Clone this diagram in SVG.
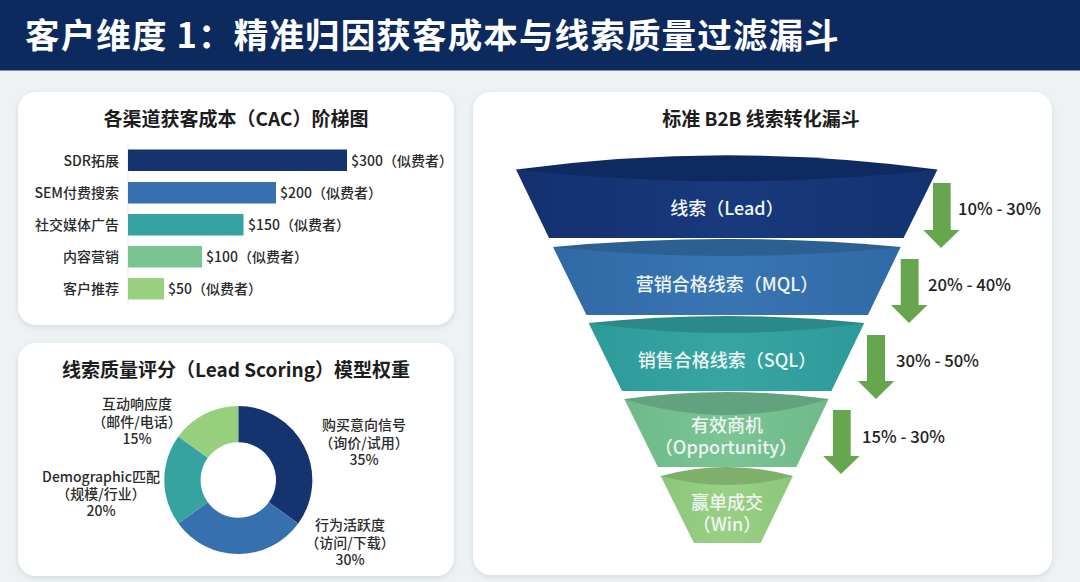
<svg xmlns="http://www.w3.org/2000/svg" width="1080" height="582" viewBox="0 0 1080 582">
<style>
text{font-family:"Noto Sans CJK SC","Noto Sans",sans-serif;fill:#222}
.card{fill:#fff;filter:url(#sh)}
.ct{font-size:19px;font-weight:700;text-anchor:middle;fill:#1d1d1d}
.bl{font-size:14px;text-anchor:end;fill:#2b2b2b;font-weight:500}
.bv{font-size:14px;fill:#2b2b2b;font-weight:500}
.dl{font-size:14px;text-anchor:middle;fill:#2b2b2b;font-weight:500}
.fl{font-size:18px;text-anchor:middle;fill:#eef5f3;font-weight:500}
.rate{font-size:16.700px;fill:#222;font-weight:500}
.arrow{fill:#66a64e}
</style>
<defs>
<filter id="sh" x="-5%" y="-5%" width="110%" height="110%"><feDropShadow dx="0" dy="2" stdDeviation="3" flood-color="#8fa0a8" flood-opacity=".3"/></filter>
<linearGradient id="f1" x1="0" x2="1"><stop offset="0" stop-color="#14306f"/><stop offset=".5" stop-color="#18397c"/><stop offset="1" stop-color="#143270"/></linearGradient>
<linearGradient id="f2" x1="0" x2="1"><stop offset="0" stop-color="#2f69a6"/><stop offset=".5" stop-color="#3a75b3"/><stop offset="1" stop-color="#2f69a6"/></linearGradient>
<linearGradient id="f3" x1="0" x2="1"><stop offset="0" stop-color="#2d9a9a"/><stop offset=".5" stop-color="#37a6a2"/><stop offset="1" stop-color="#2d9a9a"/></linearGradient>
<linearGradient id="f4" x1="0" x2="1"><stop offset="0" stop-color="#6fba8a"/><stop offset=".5" stop-color="#7bc493"/><stop offset="1" stop-color="#6fba8a"/></linearGradient>
<linearGradient id="f5" x1="0" x2="1"><stop offset="0" stop-color="#8cc77a"/><stop offset=".5" stop-color="#9ad085"/><stop offset="1" stop-color="#8cc77a"/></linearGradient>
</defs>
<rect width="1080" height="582" fill="#eef2f4"/>
<g id="header">
<rect width="1080" height="70.500" fill="#0c2a5e"/>
<text x="25" y="47.500" font-size="34.500" font-weight="700" letter-spacing="1.150" style="fill:#fff">客户维度 1：精准归因获客成本与线索质量过滤漏斗</text>
</g>
<g id="card-cac">
<rect class="card" x="18" y="92" width="436" height="233" rx="18"/>
<text class="ct" x="236" y="126">各渠道获客成本（CAC）阶梯图</text>
<line x1="128" y1="144" x2="128" y2="305" stroke="#e3e6e8" stroke-width="1"/>
<g id="bar-sdr"><rect x="128" y="149.500" width="219" height="21.500" fill="#14336f"/><text class="bl" x="119" y="166">SDR拓展</text><text class="bv" x="351" y="166">$300（似费者）</text></g>
<g id="bar-sem"><rect x="128" y="182" width="148" height="21.500" fill="#3670ae"/><text class="bl" x="119" y="198">SEM付费搜索</text><text class="bv" x="280" y="198">$200（似费者）</text></g>
<g id="bar-social"><rect x="128" y="214" width="115.500" height="21.500" fill="#37a3a0"/><text class="bl" x="119" y="230">社交媒体广告</text><text class="bv" x="248" y="230">$150（似费者）</text></g>
<g id="bar-content"><rect x="128" y="246" width="74" height="21.500" fill="#79c490"/><text class="bl" x="119" y="262">内容营销</text><text class="bv" x="206" y="262">$100（似费者）</text></g>
<g id="bar-referral"><rect x="128" y="278" width="36" height="21.500" fill="#9ad07f"/><text class="bl" x="119" y="294">客户推荐</text><text class="bv" x="168" y="294">$50（似费者）</text></g>
</g>
<g id="card-score">
<rect class="card" x="18" y="343" width="436" height="233" rx="18"/>
<text class="ct" x="236" y="377">线索质量评分（Lead Scoring）模型权重</text>
<g id="seg-intent"><path d="M238.300 406A74 74 0 0 1 298.200 523.500L268.800 502.200A37.700 37.700 0 0 0 238.300 442.300Z" fill="#14336f"/><text class="dl" y="430"><tspan x="364">购买意向信号</tspan><tspan x="364" dy="18">（询价/试用）</tspan><tspan x="364" dy="16.500">35%</tspan></text></g>
<g id="seg-activity"><path d="M298.200 523.500A74 74 0 0 1 178.400 523.500L207.800 502.200A37.700 37.700 0 0 0 268.800 502.200Z" fill="#3670ae"/><text class="dl" y="530"><tspan x="350">行为活跃度</tspan><tspan x="350" dy="17.500">（访问/下载）</tspan><tspan x="350" dy="17.500">30%</tspan></text></g>
<g id="seg-demo"><path d="M178.400 523.500A74 74 0 0 1 178.400 436.500L207.800 457.800A37.700 37.700 0 0 0 207.800 502.200Z" fill="#37a3a0"/><text class="dl" y="482"><tspan x="101">Demographic匹配</tspan><tspan x="101" dy="17">（规模/行业）</tspan><tspan x="101" dy="17">20%</tspan></text></g>
<g id="seg-engage"><path d="M178.400 436.500A74 74 0 0 1 238.300 406L238.300 442.300A37.700 37.700 0 0 0 207.800 457.800Z" fill="#96cf7e"/><text class="dl" y="409"><tspan x="137">互动响应度</tspan><tspan x="137" dy="18">（邮件/电话）</tspan><tspan x="137" dy="17">15%</tspan></text></g>
</g>
<g id="card-funnel">
<rect class="card" x="473" y="92" width="579" height="483" rx="18"/>
<text class="ct" x="761" y="126">标准 B2B 线索转化漏斗</text>
</g>
<g id="stage-lead">
<path d="M516 169.500H937.500L903.600 238H549Z" fill="url(#f1)"/>
<path d="M516 169.500Q727 141 937.500 169.500Q727 193 516 169.500Z" fill="#0f2a60"/>
<text class="fl" x="727" y="215">线索（Lead）</text>
</g>
<g id="stage-mql">
<path d="M553 247H900.700L867.900 315H586.400Z" fill="url(#f2)"/>
<path d="M553 247Q727 231 900.700 247Q727 265 553 247Z" fill="#2c6092"/>
<text class="fl" x="727" y="291">营销合格线索（MQL）</text>
</g>
<g id="stage-sql">
<path d="M588.600 323H864.300L831.400 391H622Z" fill="url(#f3)"/>
<path d="M588.600 323Q727 309 864.300 323Q727 343 588.600 323Z" fill="#2a8a8a"/>
<text class="fl" x="727" y="367">销售合格线索（SQL）</text>
</g>
<g id="stage-opp">
<path d="M624.300 399H828.600L796.400 467H657.900Z" fill="url(#f4)"/>
<path d="M624.300 399Q727 385 828.600 399Q727 431 624.300 399Z" fill="#63a27f"/>
<text class="fl" y="432"><tspan x="727">有效商机</tspan><tspan x="726" dy="22">（Opportunity）</tspan></text>
</g>
<g id="stage-win">
<path d="M660.700 476H792.900L760.700 543H693.900Z" fill="url(#f5)"/>
<path d="M660.700 476Q727 458 792.900 476Q727 494 660.700 476Z" fill="#7eaf6b"/>
<text class="fl" y="509"><tspan x="727">赢单成交</tspan><tspan x="727" dy="22">（Win）</tspan></text>
</g>
<g id="connectors">
<path class="arrow" d="M933 183H950.700V230H959.600L941 248L923.200 230H933Z"/>
<path class="arrow" d="M900.700 259H918.600V305H927.500L909 323L891 305H900.700Z"/>
<path class="arrow" d="M867 335H885V381H894.300L876 399L857.900 381H867Z"/>
<path class="arrow" d="M833 410H850.700V456H859.600L841 474L823.200 456H833Z"/>
</g>
<g id="rates">
<text class="rate" x="958" y="215">10% - 30%</text>
<text class="rate" x="928" y="291">20% - 40%</text>
<text class="rate" x="896" y="367">30% - 50%</text>
<text class="rate" x="862" y="443">15% - 30%</text>
</g>
</svg>
